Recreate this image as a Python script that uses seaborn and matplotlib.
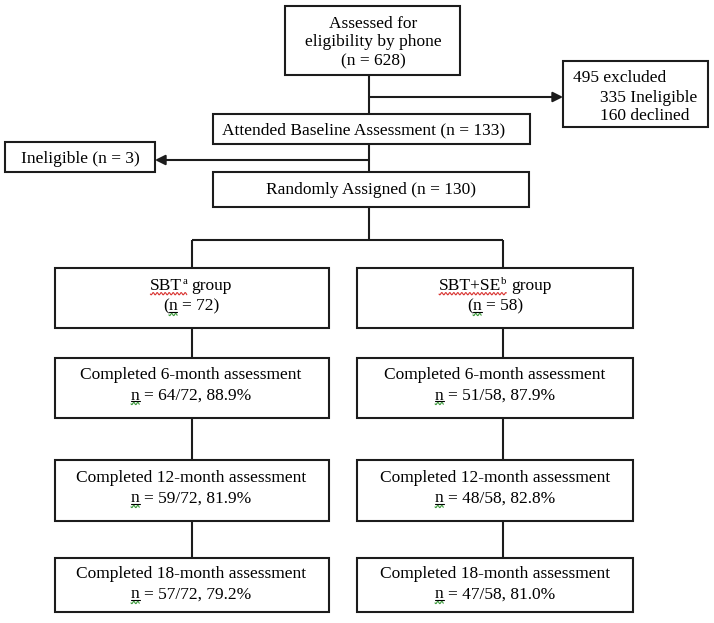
import numpy as np
import matplotlib
matplotlib.use("Agg")
import matplotlib.pyplot as plt
from matplotlib.patches import Rectangle
import seaborn as sns

# ── data (CONSORT flow counts) ────────────────────────────
SCREENED = 628
EXCLUDED = 495
EXCLUDED_INELIGIBLE = 335
EXCLUDED_DECLINED = 160
BASELINE_N = 133
BASELINE_INELIGIBLE = 3
RANDOMIZED = 130

GROUP_NAMES = ["SBT", "SBT+SE"]
GROUP_NOTES = ["a", "b"]
GROUP_N = [72, 58]
MONTHS = [6, 12, 18]
SBT_DONE = [64, 59, 57]
SBT_PCT = [88.9, 81.9, 79.2]
SBTSE_DONE = [51, 48, 47]
SBTSE_PCT = [87.9, 82.8, 81.0]

# ── style ─────────────────────────────────────────────────
sns.set_theme(style="white")
plt.rcParams["font.family"] = ["Liberation Serif", "DejaVu Serif"]
INK = "#1c1c1c"
RED = "#d8322f"
GREEN = "#3c9a3c"
FS = 12.5            # points
FS_PX = FS * 100 / 72
LW = 1.5

fig = plt.figure(figsize=(7.14, 6.23), dpi=100)
ax = fig.add_axes([0, 0, 1, 1])
ax.set_xlim(0, 714)
ax.set_ylim(623, 0)
ax.axis("off")
renderer = fig.canvas.get_renderer()


def text_w(s, size):
    t = ax.text(0, 0, s, fontsize=size)
    w = t.get_window_extent(renderer).width
    t.remove()
    return w


def run_w(s, size):
    return text_w(s + "|", size) - text_w("|", size)


SPACE_W = text_w("x x", FS) - text_w("xx", FS)


def squiggle(x0, x1, y, color):
    xs = np.arange(x0, x1 + 0.25, 0.25)
    ys = y + 1.1 * np.sin((xs - x0) / 4.0 * 2 * np.pi)
    ax.plot(xs, ys, color=color, lw=0.8, solid_capstyle="butt")


def draw_runs(x, y, runs, ha="center"):
    """runs: list of (text, flags); flags s=superscript u=underline r/g=squiggle"""
    items = []
    for txt, fl in runs:
        lead = len(txt) - len(txt.lstrip(" "))
        txt = txt.lstrip(" ")
        size = FS * 0.62 if "s" in fl else FS
        items.append((lead * SPACE_W, txt, fl, size, run_w(txt, size)))
    total = sum(a + w for a, _, _, _, w in items)
    cur = x - total / 2 if ha == "center" else x
    spans = {"r": [], "g": []}
    for lead, txt, fl, size, w in items:
        cur += lead
        dy = -FS_PX * 0.36 if "s" in fl else 0
        ax.text(cur, y + dy, txt, fontsize=size, va="baseline", ha="left", color="black")
        if "u" in fl:
            ax.plot([cur, cur + w], [y + 1.6, y + 1.6], color="black", lw=0.8)
        for c in "rg":
            if c in fl:
                if spans[c] and abs(spans[c][-1][1] - cur) < 0.5:
                    spans[c][-1][1] = cur + w
                else:
                    spans[c].append([cur, cur + w])
        cur += w
    for x0, x1 in spans["r"]:
        squiggle(x0, x1, y + 3.2, RED)
    for x0, x1 in spans["g"]:
        squiggle(x0, x1, y + 4.0, GREEN)


def box(x0, y0, x1, y1):
    ax.add_patch(Rectangle((x0, y0), x1 - x0, y1 - y0, fill=False, ec=INK, lw=LW))


def line(xs, ys):
    ax.plot(xs, ys, color=INK, lw=LW, solid_capstyle="butt")


def arrow(x0, x1, y):
    ax.annotate("", xy=(x1, y), xytext=(x0, y),
                arrowprops=dict(arrowstyle="-|>", color=INK, lw=LW,
                                mutation_scale=15, shrinkA=0, shrinkB=0))


# ── top part ──────────────────────────────────────────────
box(285, 6, 460, 75)
draw_runs(373, 27.5, [("Assessed for", "")])
draw_runs(373, 46.5, [("eligibility by phone", "")])
draw_runs(373, 65.5, [(f"(n = {SCREENED})", "")])

line([369, 369], [75, 114])
arrow(369, 563, 97)
box(563, 61, 708, 127)
draw_runs(573, 81.5, [(f"{EXCLUDED} excluded", "")], ha="left")
draw_runs(600, 101.5, [(f"{EXCLUDED_INELIGIBLE} Ineligible", "")], ha="left")
draw_runs(600, 120, [(f"{EXCLUDED_DECLINED} declined", "")], ha="left")

box(213, 114, 530, 144)
draw_runs(364, 134.5, [(f"Attended Baseline Assessment (n = {BASELINE_N})", "")])

line([369, 369], [144, 172])
arrow(369, 155, 160)
box(5, 142, 155, 172)
draw_runs(80, 163, [(f"Ineligible (n = {BASELINE_INELIGIBLE})", "")])

box(213, 172, 529, 207)
draw_runs(371, 193.5, [(f"Randomly Assigned (n = {RANDOMIZED})", "")])

line([369, 369], [207, 240])

# ── two arms ──────────────────────────────────────────────
COL_X = [(55, 329), (357, 633)]
COL_LINE = [192, 503]
COL_TEXT = [191, 495]
ROWS = [(268, 328), (358, 418), (460, 521), (558, 612)]
BASE_OFF = [(22.5, 42.5), (21, 41.5), (22, 42.5), (20.5, 40.5)]

line([COL_LINE[0], COL_LINE[1]], [240, 240])
done_all = [SBT_DONE, SBTSE_DONE]
pct_all = [SBT_PCT, SBTSE_PCT]

for g in range(2):
    x0, x1 = COL_X[g]
    xl = COL_LINE[g]
    xc = COL_TEXT[g]
    line([xl, xl], [240, ROWS[0][0]])
    for r in range(len(ROWS) - 1):
        line([xl, xl], [ROWS[r][1], ROWS[r + 1][0]])
    for r, (y0, y1) in enumerate(ROWS):
        box(x0, y0, x1, y1)
        b1, b2 = y0 + BASE_OFF[r][0], y0 + BASE_OFF[r][1]
        if r == 0:
            draw_runs(xc, b1, [(GROUP_NAMES[g], "r"), (GROUP_NOTES[g], "sr"), (" group", "")])
            draw_runs(xc, b2, [("(", ""), ("n", "ug"), (f" = {GROUP_N[g]})", "")])
        else:
            k = r - 1
            draw_runs(xc, b1, [(f"Completed {MONTHS[k]}-month assessment", "")])
            draw_runs(xc, b2, [("n", "ug"),
                               (f" = {done_all[g][k]}/{GROUP_N[g]}, {pct_all[g][k]:.1f}%", "")])

fig.savefig("out.png", dpi=100, facecolor="white")
